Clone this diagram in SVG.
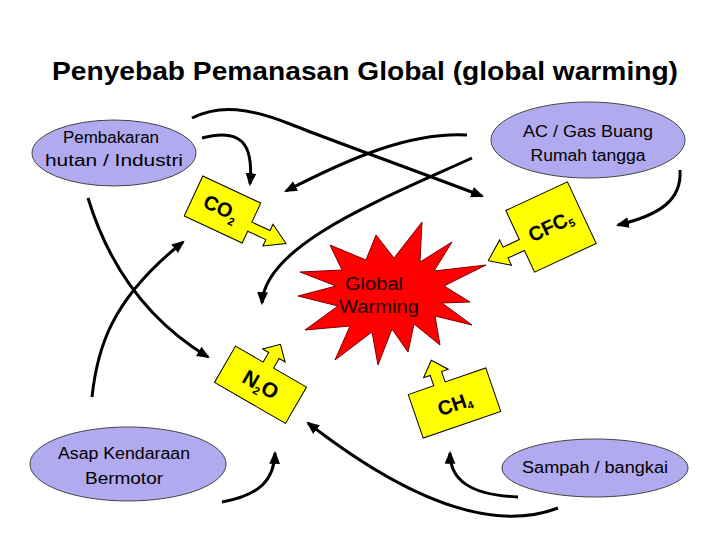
<svg xmlns="http://www.w3.org/2000/svg" width="728" height="546" viewBox="0 0 728 546">
<defs>
<style>
.title{font-family:"Liberation Sans",Arial,sans-serif;font-weight:bold;font-size:25px;fill:#000}
.lbl{font-family:"Liberation Sans",Arial,sans-serif;font-size:16px;fill:#000;text-anchor:middle}
.gas{font-family:"Liberation Sans",Arial,sans-serif;font-weight:bold;font-size:20px;fill:#000;text-anchor:middle}
.sub{font-size:11px}
.src{fill:#B1AAEE;stroke:#444;stroke-width:1}
.box{fill:#FFFF00;stroke:#000;stroke-width:1;stroke-linejoin:miter}
.con{fill:none;stroke:#000;stroke-width:3;marker-end:url(#ah)}
.star{fill:#FF0000;stroke:#800000;stroke-width:1}
.gw{font-family:"Liberation Sans",Arial,sans-serif;font-size:18px;fill:#200;text-anchor:middle}
</style>
<marker id="ah" viewBox="0 0 12 10" refX="10" refY="5" markerWidth="13" markerHeight="11" orient="auto" markerUnits="userSpaceOnUse">
<path d="M0,0 L12,5 L0,10 Z" fill="#000"/>
</marker>
</defs>
<rect width="728" height="546" fill="#fff"/>
<text class="title" x="52" y="80" textLength="626" lengthAdjust="spacingAndGlyphs">Penyebab Pemanasan Global (global warming)</text>

<g id="connectors">
<path class="con" d="M192,118 C220,104 250,108 290,124 S430,176 482,196"/>
<path class="con" d="M202,138 C240,128 254,142 250,184"/>
<path class="con" d="M467,135 C410,132 350,158 286,191"/>
<path class="con" d="M472,158 C380,200 265,245 262,303"/>
<path class="con" d="M680,170 C682,200 660,215 618,225"/>
<path class="con" d="M88,198 C110,270 150,322 208,357"/>
<path class="con" d="M92,397 C97,350 110,300 183,242"/>
<path class="con" d="M222,502 C260,495 274,480 275,453"/>
<path class="con" d="M518,497 C470,495 450,480 450,453"/>
<path class="con" d="M558,508 C500,530 420,510 308,423"/>
</g>

<g id="src-pembakaran">
<ellipse class="src" cx="114" cy="153" rx="82" ry="33"/>
<text class="lbl" x="111" y="143" textLength="96" lengthAdjust="spacingAndGlyphs">Pembakaran</text>
<text class="lbl" x="114" y="166" textLength="138" lengthAdjust="spacingAndGlyphs">hutan / Industri</text>
</g>
<g id="src-ac">
<ellipse class="src" cx="588" cy="140" rx="97" ry="38"/>
<text class="lbl" x="588" y="137" textLength="130" lengthAdjust="spacingAndGlyphs">AC / Gas Buang</text>
<text class="lbl" x="588" y="161" textLength="115" lengthAdjust="spacingAndGlyphs">Rumah tangga</text>
</g>
<g id="src-asap">
<ellipse class="src" cx="128" cy="464" rx="98" ry="37"/>
<text class="lbl" x="124" y="459" textLength="132" lengthAdjust="spacingAndGlyphs">Asap Kendaraan</text>
<text class="lbl" x="124" y="484" textLength="78" lengthAdjust="spacingAndGlyphs">Bermotor</text>
</g>
<g id="src-sampah">
<ellipse class="src" cx="595" cy="468" rx="93" ry="29"/>
<text class="lbl" x="595" y="473" textLength="146" lengthAdjust="spacingAndGlyphs">Sampah / bangkai</text>
</g>

<g id="global-warming">
<polygon class="star" points="422,222 420,262 452,242 434,271 486,265 444,286 470,302 442,303 472,325 435,316 440,345 414,324 408,352 392,329 378,365 372,332 335,360 350,326 305,330 338,306 298,296 336,286 300,272 342,270 330,245 366,260 376,235 394,258"/>
<text class="gw" x="374" y="290" textLength="58" lengthAdjust="spacingAndGlyphs">Global</text>
<text class="gw" x="379" y="313" textLength="80" lengthAdjust="spacingAndGlyphs">Warming</text>
</g>

<g id="co2" transform="translate(222.5,209.5) rotate(25)">
<path class="box" d="M-32,-22 L32,-22 L32,-1 L52,-1 L52,-8 L72,4 L52,16 L52,9 L32,9 L32,22 L-32,22 Z"/>
<text class="gas" x="-2" y="6">CO<tspan class="sub" dy="5">2</tspan></text>
</g>
<g id="cfc5" transform="translate(551,227) rotate(-25)">
<path class="box" d="M-34,-34 L34,-34 L34,34 L-34,34 L-34,10 L-52,10 L-52,18 L-71,4 L-52,-10 L-52,-2 L-34,-2 Z"/>
<text class="gas" x="0" y="6">CFC<tspan class="sub" dy="3">5</tspan></text>
</g>
<g id="n2o" transform="translate(260.5,384.75) rotate(30)">
<path class="box" d="M-41,-21 L-9,-21 L-9,-32 L-16,-32 L-3,-45 L10,-32 L3,-32 L3,-21 L41,-21 L41,21 L-41,21 Z"/>
<text class="gas" x="0" y="7" style="font-size:21px">N<tspan class="sub" dy="4">2</tspan><tspan dy="-4">O</tspan></text>
</g>
<g id="ch4" transform="translate(454.5,403) rotate(-19)">
<path class="box" d="M-41,-23 L-14,-23 L-14,-34 L-21,-34 L-8,-48 L5,-34 L-2,-34 L-2,-23 L41,-23 L41,23 L-41,23 Z"/>
<text class="gas" x="0" y="8">CH<tspan class="sub" dy="3">4</tspan></text>
</g>
</svg>
